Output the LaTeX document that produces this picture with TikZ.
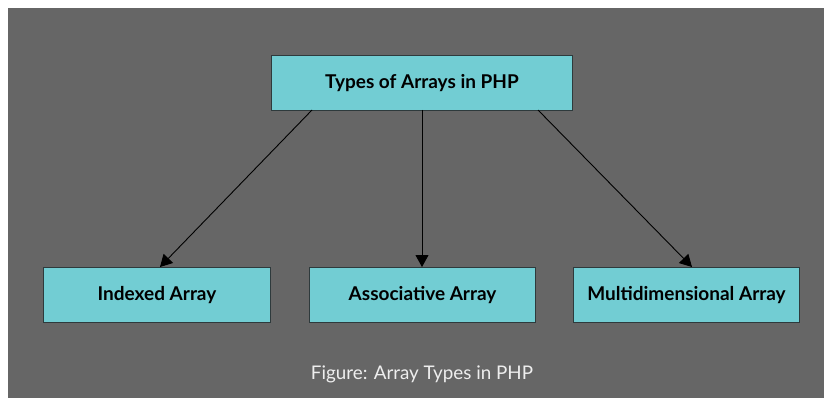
\documentclass[tikz,border=0pt]{standalone}
\usepackage{fontspec}
\setmainfont{Lato}
\usetikzlibrary{arrows.meta}
\definecolor{bggray}{HTML}{666666}
\definecolor{boxfill}{HTML}{72CDD3}
\definecolor{boxline}{HTML}{2E3A3C}
\definecolor{captext}{HTML}{EEEEEE}
\tikzset{
  x=1pt,y=-1pt,
  typebox/.style={draw=boxline,line width=1pt,fill=boxfill,anchor=north west,inner sep=0pt,
    font=\fontsize{19}{22}\selectfont\bfseries,text=black},
  conn/.style={draw=black,line width=0.9pt,-{Triangle[length=12pt,width=13pt]}}
}
\begin{document}
\begin{tikzpicture}
\useasboundingbox (0,0) rectangle (824,398);
\fill[white] (0,0) rectangle (824,398);
\fill[bggray] (8,8) rectangle (824,398);
\node[typebox,minimum width=301pt,minimum height=55pt] (top) at (271,55) {Types of Arrays in PHP};
\node[typebox,minimum width=227pt,minimum height=55pt] (idx) at (43,267) {Indexed Array};
\node[typebox,minimum width=226pt,minimum height=55pt] (asc) at (309,267) {Associative Array};
\node[typebox,minimum width=226pt,minimum height=55pt] (mul) at (573,267) {Multidimensional Array};
\coordinate (t1) at (312,110);
\coordinate (t2) at (422,110);
\coordinate (t3) at (538,110);
\coordinate (b1) at (160,267);
\coordinate (b2) at (422,267);
\coordinate (b3) at (692,267);
\draw[conn] (t1) -- (b1);
\draw[conn] (t2) -- (b2);
\draw[conn] (t3) -- (b3);
\node[text=captext,font=\fontsize{18.8}{22}\selectfont] (cap) at (422,374) {Figure: Array Types in PHP};
\end{tikzpicture}
\end{document}
